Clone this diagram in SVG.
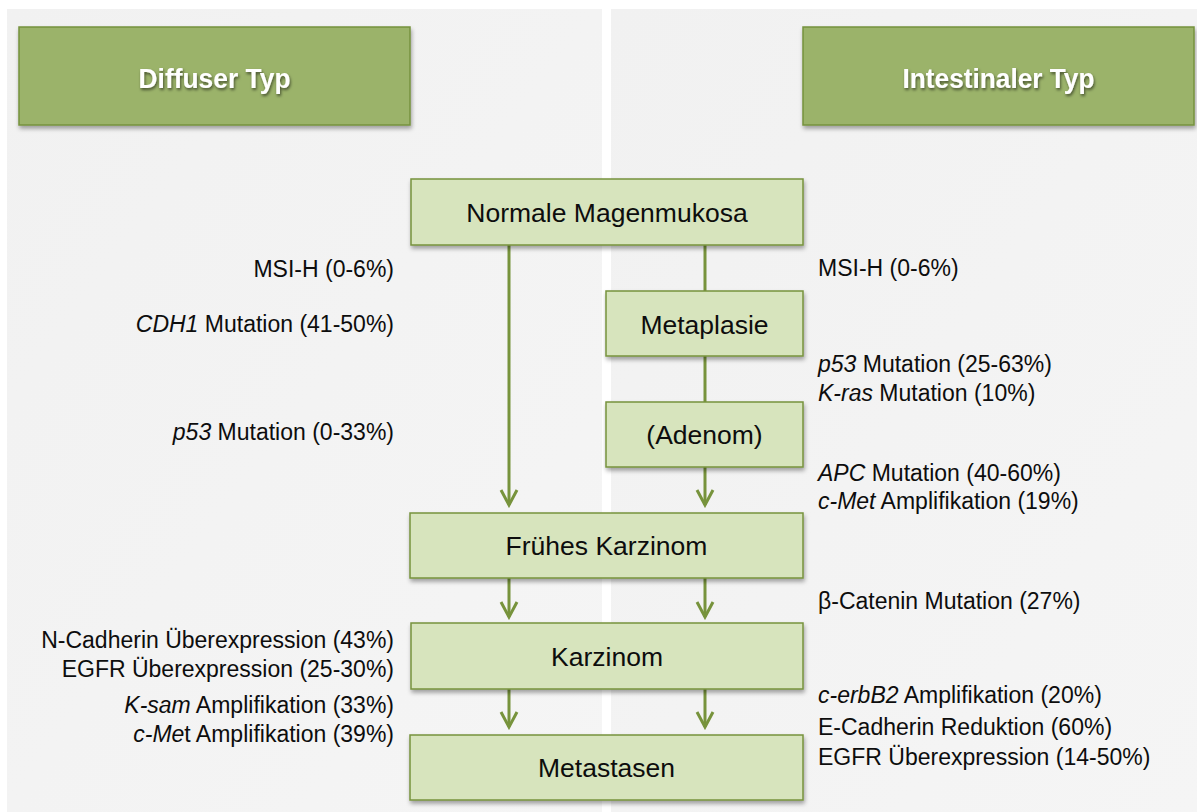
<svg xmlns="http://www.w3.org/2000/svg" width="1197" height="812" viewBox="0 0 1197 812">
<defs>
<linearGradient id="panelGrad" x1="0" y1="0" x2="1" y2="1">
<stop offset="0" stop-color="#F1F1F1"/>
<stop offset="1" stop-color="#F5F5F5"/>
</linearGradient>
<filter id="boxShadow" x="-10%" y="-20%" width="120%" height="160%">
<feDropShadow dx="1" dy="3" stdDeviation="2" flood-color="#000" flood-opacity="0.35"/>
</filter>
<filter id="textShadow" x="-10%" y="-30%" width="120%" height="170%">
<feDropShadow dx="1" dy="2" stdDeviation="1.5" flood-color="#000" flood-opacity="0.55"/>
</filter>
<marker id="arrow" viewBox="-17 -10 20 20" markerWidth="20" markerHeight="20" refX="0" refY="0" orient="auto" markerUnits="userSpaceOnUse">
<path d="M-15,-8 L0,0 L-15,8" fill="none" stroke="#77933C" stroke-width="3"/>
</marker>
<style>
.panel{fill:url(#panelGrad);}
.hdr{fill:#9BB36B;stroke:#76923C;stroke-width:1.5;filter:url(#boxShadow);}
.hdrtxt{font-family:"Liberation Sans",Arial,sans-serif;font-size:28.5px;font-weight:bold;fill:#FFFFFF;text-anchor:middle;filter:url(#textShadow);}
.node{fill:#D7E4BD;stroke:#77933C;stroke-width:1.5;filter:url(#boxShadow);}
.ntxt{font-family:"Liberation Sans",Arial,sans-serif;font-size:26.5px;fill:#0D0D0D;text-anchor:middle;}
.lbl{font-family:"Liberation Sans",Arial,sans-serif;font-size:23px;fill:#0D0D0D;}
.l{text-anchor:end;}
.r{text-anchor:start;}
.it{font-style:italic;}
.conn{stroke:#77933C;stroke-width:3;fill:none;}
</style>
</defs>
<rect x="0" y="0" width="1197" height="812" fill="#FFFFFF"/>
<rect class="panel" x="7" y="9" width="595" height="803"/>
<rect class="panel" x="611" y="9" width="586" height="803"/>

<g id="header-diffus">
<rect class="hdr" x="19" y="27" width="391" height="98"/>
<text class="hdrtxt" x="214.5" y="87.5" textLength="152" lengthAdjust="spacingAndGlyphs">Diffuser Typ</text>
</g>
<g id="header-intestinal">
<rect class="hdr" x="803" y="27" width="391" height="98"/>
<text class="hdrtxt" x="998.5" y="87.5" textLength="192" lengthAdjust="spacingAndGlyphs">Intestinaler Typ</text>
</g>

<g id="connectors">
<line class="conn" x1="509" y1="245" x2="509" y2="505" marker-end="url(#arrow)"/>
<line class="conn" x1="705" y1="245" x2="705" y2="291"/>
<line class="conn" x1="705" y1="356" x2="705" y2="402"/>
<line class="conn" x1="705" y1="467" x2="705" y2="505" marker-end="url(#arrow)"/>
<line class="conn" x1="509" y1="578" x2="509" y2="617" marker-end="url(#arrow)"/>
<line class="conn" x1="705" y1="578" x2="705" y2="617" marker-end="url(#arrow)"/>
<line class="conn" x1="509" y1="689" x2="509" y2="727" marker-end="url(#arrow)"/>
<line class="conn" x1="705" y1="689" x2="705" y2="727" marker-end="url(#arrow)"/>
</g>

<g id="node-normale">
<rect class="node" x="411" y="179" width="392" height="66"/>
<text class="ntxt" x="607" y="222">Normale Magenmukosa</text>
</g>
<g id="node-metaplasie">
<rect class="node" x="606" y="291" width="197" height="65"/>
<text class="ntxt" x="704.5" y="334">Metaplasie</text>
</g>
<g id="node-adenom">
<rect class="node" x="606" y="402" width="197" height="65"/>
<text class="ntxt" x="704.5" y="444">(Adenom)</text>
</g>
<g id="node-frueh">
<rect class="node" x="410" y="513" width="393" height="65"/>
<text class="ntxt" x="606.5" y="555">Frühes Karzinom</text>
</g>
<g id="node-karzinom">
<rect class="node" x="411" y="623" width="392" height="66"/>
<text class="ntxt" x="607" y="666">Karzinom</text>
</g>
<g id="node-metastasen">
<rect class="node" x="410" y="735" width="393" height="65"/>
<text class="ntxt" x="606.5" y="777">Metastasen</text>
</g>

<g id="labels-diffus">
<text class="lbl l" x="394" y="277">MSI-H (0-6%)</text>
<text class="lbl l" x="394" y="332"><tspan class="it">CDH1</tspan> Mutation (41-50%)</text>
<text class="lbl l" x="394" y="440"><tspan class="it">p53</tspan> Mutation (0-33%)</text>
<text class="lbl l" x="394" y="648">N-Cadherin Überexpression (43%)</text>
<text class="lbl l" x="394" y="677">EGFR Überexpression (25-30%)</text>
<text class="lbl l" x="394" y="713"><tspan class="it">K-sam</tspan> Amplifikation (33%)</text>
<text class="lbl l" x="394" y="742"><tspan class="it">c-Me</tspan>t Amplifikation (39%)</text>
</g>

<g id="labels-intestinal">
<text class="lbl r" x="818" y="276">MSI-H (0-6%)</text>
<text class="lbl r" x="818" y="372"><tspan class="it">p53</tspan> Mutation (25-63%)</text>
<text class="lbl r" x="818" y="401"><tspan class="it">K-ras</tspan> Mutation (10%)</text>
<text class="lbl r" x="818" y="481"><tspan class="it">APC</tspan> Mutation (40-60%)</text>
<text class="lbl r" x="818" y="509"><tspan class="it">c-Met</tspan> Amplifikation (19%)</text>
<text class="lbl r" x="818" y="609">β-Catenin Mutation (27%)</text>
<text class="lbl r" x="818" y="703"><tspan class="it">c-erbB2</tspan> Amplifikation (20%)</text>
<text class="lbl r" x="818" y="735">E-Cadherin Reduktion (60%)</text>
<text class="lbl r" x="818" y="765">EGFR Überexpression (14-50%)</text>
</g>
</svg>
